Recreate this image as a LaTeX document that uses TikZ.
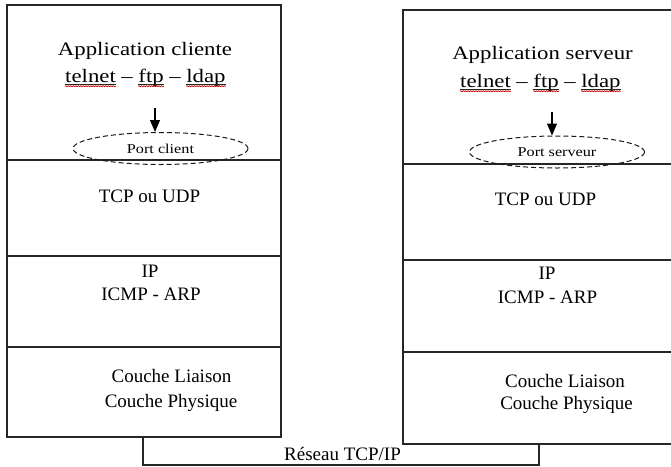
\documentclass[tikz,border=0pt]{standalone}
\usepackage{fontspec}
\setmainfont{Liberation Serif}
\newfontfamily\widefont[FakeStretch=1.2]{Liberation Serif}
\usetikzlibrary{arrows.meta,shapes.geometric,decorations.pathmorphing}
\tikzset{
  frame/.style={line width=1.1pt, draw=black!85},
  layer/.style={frame, rectangle, inner sep=0pt, outer sep=0pt, anchor=north west},
  lbl/.style={font=\fontsize{19}{19}\selectfont, inner sep=0pt, anchor=base},
  ttl/.style={font=\widefont\fontsize{19}{19}\selectfont, inner sep=0pt, anchor=base},
  wrd/.style={ttl, anchor=base west},
  port/.style={ellipse, draw=black!90, line width=1pt, dash pattern=on 5pt off 3pt,
    minimum width=175pt, minimum height=32pt, inner sep=0pt,
    font=\widefont\fontsize{13.5}{13.5}\selectfont},
  uline/.style={line width=0.7pt, draw=black!85},
  squig/.style={line width=0.7pt, draw=red!80!black, decorate,
    decoration={snake, amplitude=0.5pt, segment length=2.5pt}},
  arr/.style={line width=1.2pt, -{Triangle[width=10pt,length=12pt]}}
}
\newcommand{\dsep}{\hspace*{5.2pt}–\hspace*{5.2pt}\null}
\begin{document}
\begin{tikzpicture}[x=1pt,y=-1pt]
\useasboundingbox (0,0) rectangle (671,466);
% left stack
\node[layer, minimum width=274pt, minimum height=155pt] (appL) at (7,5) {};
\node[layer, minimum width=274pt, minimum height=96pt] (tcpL) at (7,160) {};
\node[layer, minimum width=274pt, minimum height=91pt] (ipL) at (7,256) {};
\node[layer, minimum width=274pt, minimum height=90pt] (linkL) at (7,347) {};
% right stack
\node[layer, minimum width=272pt, minimum height=154pt] (appR) at (403,10) {};
\node[layer, minimum width=272pt, minimum height=96pt] (tcpR) at (403,164) {};
\node[layer, minimum width=272pt, minimum height=92pt] (ipR) at (403,260) {};
\node[layer, minimum width=272pt, minimum height=92pt] (linkR) at (403,352) {};
% network
\coordinate (nL) at (143,437);
\coordinate (nR) at (539,444);
\coordinate (nB) at (341,465);
\draw[frame] (nL) |- (nB) -| (nR);
\node[lbl] (net) at (342.5,460) {Réseau TCP/IP};
% left texts
\node[ttl] (titL) at (145,55) {Application cliente};
\node[wrd] (telL) at (65,82) {telnet};
\node[wrd] (d1L) at (telL.base east) {\dsep};
\node[wrd] (ftpL) at (d1L.base east) {ftp};
\node[wrd] (d2L) at (ftpL.base east) {\dsep};
\node[wrd] (ldapL) at (d2L.base east) {ldap};
\node[port] (portL) at (160.5,148.5) {Port client};
\coordinate (arL) at (155,108);
\draw[arr] (arL) -- (arL |- portL.north);
\node[lbl] (tcptL) at (149.5,202) {TCP ou UDP};
\node[lbl] (iptL) at (150,277) {IP};
\node[lbl] (icmpL) at (151,300) {ICMP - ARP};
\node[lbl] (liaL) at (171.5,382) {Couche Liaison};
\node[lbl] (phyL) at (171,407) {Couche Physique};
% right texts
\node[ttl] (titR) at (542.5,59) {Application serveur};
\node[wrd] (telR) at (460,87) {telnet};
\node[wrd] (d1R) at (telR.base east) {\dsep};
\node[wrd] (ftpR) at (d1R.base east) {ftp};
\node[wrd] (d2R) at (ftpR.base east) {\dsep};
\node[wrd] (ldapR) at (d2R.base east) {ldap};
\node[port] (portR) at (557,152) {Port serveur};
\coordinate (arR) at (552,112);
\draw[arr] (arR) -- (arR |- portR.north);
\node[lbl] (tcptR) at (545.5,205) {TCP ou UDP};
\node[lbl] (iptR) at (547,279) {IP};
\node[lbl] (icmpR) at (547.5,303) {ICMP - ARP};
\node[lbl] (liaR) at (565,387) {Couche Liaison};
\node[lbl] (phyR) at (566.5,409) {Couche Physique};
% underlines
\foreach \w in {telL,ftpL,ldapL,telR,ftpR,ldapR}{
  \draw[uline] ([yshift=-2.5pt]\w.base west) -- ([yshift=-2.5pt]\w.base east);
  \draw[squig] ([yshift=-4.2pt]\w.base west) -- ([yshift=-4.2pt]\w.base east);
}
\end{tikzpicture}
\end{document}
